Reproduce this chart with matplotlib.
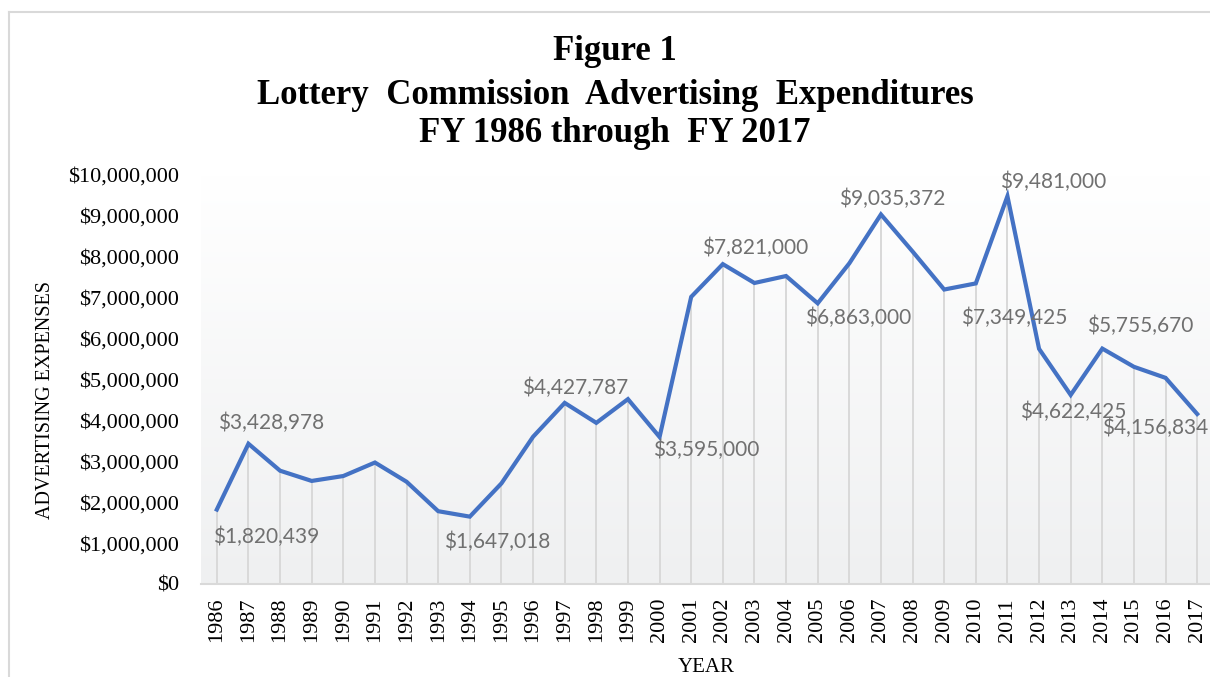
import numpy as np
import matplotlib
matplotlib.use("Agg")
import matplotlib.pyplot as plt
from matplotlib.ticker import FuncFormatter
from matplotlib.lines import Line2D
from matplotlib.colors import LinearSegmentedColormap

# ── data ──
years = list(range(1986, 2018))
expenses = [1820439, 3428978, 2770000, 2520000, 2640000, 2970000, 2500000, 1780000,
            1647018, 2460000, 3600000, 4427787, 3940000, 4520000, 3595000, 7020000,
            7821000, 7360000, 7530000, 6863000, 7840000, 9035372, 8130000, 7200000,
            7349425, 9481000, 5750000, 4622425, 5755670, 5310000, 5040000, 4156834]

label_years = [1986, 1987, 1994, 1997, 2000, 2002, 2005, 2007, 2010, 2011, 2013, 2014, 2017]

# label placement (pixels from the point)
label_offsets = [(49, -27), (23, 21), (27, -25), (10, 15), (47, -13), (32, 16), (40, -15),
                 (11, 16), (38, -34), (46, 14), (3, -17), (38, 23), (-42, -14)]

SERIF = "Liberation Serif"
LINE_BLUE = "#4472C4"
GRID_GRAY = "#d9d9d9"
LABEL_GRAY = "#707070"

W, H = 1210, 677
fig = plt.figure(figsize=(W / 100, H / 100), dpi=100)
ax = fig.add_axes([201 / W, 93 / H, 1012 / W, 409 / H])

# plot-area gradient (white top -> light gray bottom)
cmap = LinearSegmentedColormap.from_list("bg", ["#ffffff", "#eff0f1"])
ax.imshow(np.linspace(0, 1, 256).reshape(-1, 1), cmap=cmap, aspect="auto",
          extent=[0, 1, 0, 1], transform=ax.transAxes, zorder=0)

ax.vlines(years, 0, expenses, color=GRID_GRAY, lw=1.4, zorder=1)
ax.plot(years, expenses, color=LINE_BLUE, lw=3.0, solid_joinstyle="miter", zorder=3)

for (yr, (dx, dy)) in zip(label_years, label_offsets):
    v = expenses[years.index(yr)]
    ax.annotate(f"${v:,.0f}", (yr, v), xytext=(dx, dy), textcoords="offset pixels",
                ha="center", va="center", fontsize=15, family="Lato",
                color=LABEL_GRAY, zorder=4, annotation_clip=False)

ax.set_xlim(1985.5, 2017.5)
ax.set_ylim(0, 10_000_000)
ax.set_xticks(years)
ax.set_xticklabels([str(y) for y in years], rotation=90, family=SERIF, fontsize=16)
ax.set_yticks(np.arange(0, 10_000_001, 1_000_000))
ax.yaxis.set_major_formatter(FuncFormatter(lambda v, p: f"${v:,.0f}"))
for lbl in ax.get_yticklabels():
    lbl.set_family(SERIF)
    lbl.set_fontsize(16)
ax.tick_params(axis="y", length=0, pad=16)
ax.tick_params(axis="x", length=0, pad=10)
for s in ("top", "right", "left"):
    ax.spines[s].set_visible(False)
ax.spines["bottom"].set_color(GRID_GRAY)
ax.spines["bottom"].set_linewidth(1.5)

# titles and axis names
fig.text(615 / W, 1 - 51 / H, "Figure 1", ha="center", va="center",
         family=SERIF, fontweight="bold", fontsize=25)
fig.text(615 / W, 1 - 95 / H, "Lottery  Commission  Advertising  Expenditures",
         ha="center", va="center", family=SERIF, fontweight="bold", fontsize=25)
fig.text(615 / W, 1 - 133 / H, "FY 1986 through  FY 2017", ha="center", va="center",
         family=SERIF, fontweight="bold", fontsize=25)
fig.text(46 / W, 1 - 400 / H, "ADVERTISING EXPENSES", rotation=90, ha="center",
         va="center", family=SERIF, fontsize=14.5)
fig.text(706 / W, 1 - 668 / H, "YEAR", ha="center", va="center", family=SERIF, fontsize=15)

# chart border (left and top edges visible)
fig.add_artist(Line2D([9 / W, 9 / W], [0, 1 - 12 / H], color=GRID_GRAY, lw=1.5))
fig.add_artist(Line2D([9 / W, 1], [1 - 12 / H, 1 - 12 / H], color=GRID_GRAY, lw=1.5))

fig.savefig("out.png", dpi=100)
